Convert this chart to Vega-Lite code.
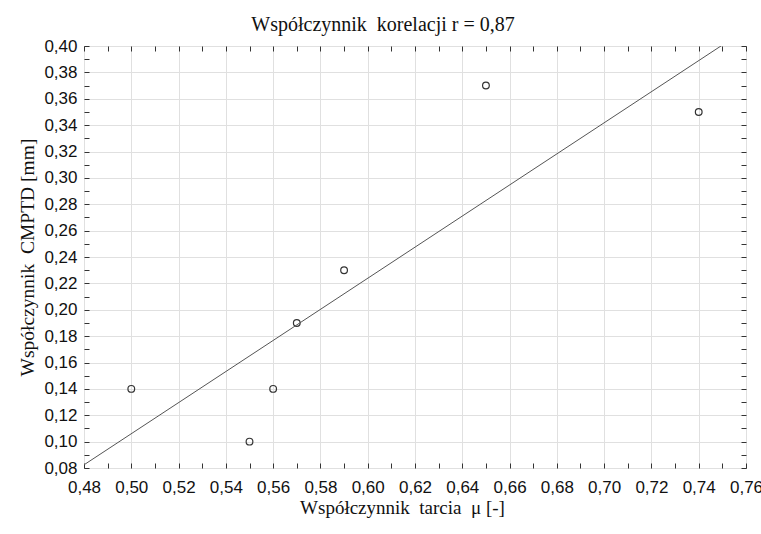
{
  "$schema": "https://vega.github.io/schema/vega-lite/v6.json",
  "width": 662,
  "height": 422,
  "autosize": "none",
  "padding": {"left": 84, "top": 46, "right": 15, "bottom": 66},
  "background": "white",
  "title": {
    "text": "Współczynnik\u00a0 korelacji r = 0,87",
    "font": "Liberation Serif",
    "fontSize": 20,
    "fontWeight": "normal",
    "color": "#111",
    "anchor": "middle",
    "offset": 2,
    "dx": -32
  },
  "data": {
    "values": [
      {"mu": 0.50, "cmptd": 0.14},
      {"mu": 0.55, "cmptd": 0.10},
      {"mu": 0.56, "cmptd": 0.14},
      {"mu": 0.57, "cmptd": 0.19},
      {"mu": 0.59, "cmptd": 0.23},
      {"mu": 0.65, "cmptd": 0.37},
      {"mu": 0.74, "cmptd": 0.35}
    ]
  },
  "config": {
    "view": {"stroke": "#333", "strokeWidth": 1},
    "axis": {
      "domain": false,
      "tickColor": "#333",
      "tickSize": -5,
      "tickWidth": 1,
      "labelFont": "Liberation Sans",
      "labelFontSize": 17,
      "labelColor": "#111",
      "labelOverlap": false,
      "labelFlush": false,
      "titleFont": "Liberation Serif",
      "titleFontSize": 19.5,
      "titleFontWeight": "normal",
      "titleColor": "#111"
    }
  },
  "layer": [
    {
      "mark": {"type": "point", "shape": "circle", "filled": false, "size": 45, "stroke": "#333", "strokeWidth": 1.2, "opacity": 1},
      "encoding": {
        "x": {
          "field": "mu", "type": "quantitative",
          "scale": {"domain": [0.48, 0.76], "nice": false, "zero": false},
          "axis": {
            "orient": "bottom",
            "title": "Współczynnik\u00a0 tarcia\u00a0 μ [-]",
            "titleFontSize": 19,
            "titlePadding": 3,
            "titleX": 318,
            "values": [0.48,0.49,0.50,0.51,0.52,0.53,0.54,0.55,0.56,0.57,0.58,0.59,0.60,0.61,0.62,0.63,0.64,0.65,0.66,0.67,0.68,0.69,0.70,0.71,0.72,0.73,0.74,0.75,0.76],
            "labelExpr": "round(datum.value*100)%2==0 ? replace(format(datum.value,'.2f'),'.',',') : ''",
            "labelPadding": 16,
            "grid": true,
            "gridColor": {"condition": {"test": "round(datum.value*100)%2==0", "value": "#e0e0e0"}, "value": "transparent"}
          }
        },
        "y": {
          "field": "cmptd", "type": "quantitative",
          "scale": {"domain": [0.08, 0.40], "nice": false, "zero": false},
          "axis": {
            "orient": "left",
            "title": "Współczynnik\u00a0 CMPTD [mm]",
            "titlePadding": 6,
            "values": [0.08,0.09,0.10,0.11,0.12,0.13,0.14,0.15,0.16,0.17,0.18,0.19,0.20,0.21,0.22,0.23,0.24,0.25,0.26,0.27,0.28,0.29,0.30,0.31,0.32,0.33,0.34,0.35,0.36,0.37,0.38,0.39,0.40],
            "labelExpr": "round(datum.value*100)%2==0 ? replace(format(datum.value,'.2f'),'.',',') : ''",
            "labelPadding": 12,
            "grid": true,
            "gridColor": {"condition": {"test": "round(datum.value*100)%2==0", "value": "#e0e0e0"}, "value": "transparent"}
          }
        }
      }
    },
    {
      "transform": [{"regression": "cmptd", "on": "mu", "extent": [0.48, 0.76]}],
      "mark": {"type": "line", "color": "#555", "strokeWidth": 1, "clip": true},
      "encoding": {
        "x": {
          "field": "mu", "type": "quantitative",
          "axis": {
            "orient": "top", "title": null, "labels": false, "grid": false,
            "values": [0.48,0.49,0.50,0.51,0.52,0.53,0.54,0.55,0.56,0.57,0.58,0.59,0.60,0.61,0.62,0.63,0.64,0.65,0.66,0.67,0.68,0.69,0.70,0.71,0.72,0.73,0.74,0.75,0.76]
          }
        },
        "y": {
          "field": "cmptd", "type": "quantitative",
          "axis": {
            "orient": "right", "title": null, "labels": false, "grid": false,
            "values": [0.08,0.09,0.10,0.11,0.12,0.13,0.14,0.15,0.16,0.17,0.18,0.19,0.20,0.21,0.22,0.23,0.24,0.25,0.26,0.27,0.28,0.29,0.30,0.31,0.32,0.33,0.34,0.35,0.36,0.37,0.38,0.39,0.40]
          }
        }
      }
    }
  ],
  "resolve": {"axis": {"x": "independent", "y": "independent"}}
}
